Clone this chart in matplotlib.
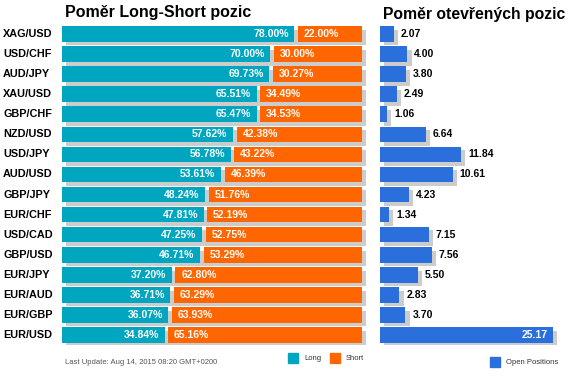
import matplotlib
matplotlib.use('Agg')
import matplotlib.pyplot as plt
from matplotlib.patches import Rectangle

plt.rcParams['font.family'] = ['Liberation Sans', 'DejaVu Sans']

pairs = ['XAG/USD', 'USD/CHF', 'AUD/JPY', 'XAU/USD', 'GBP/CHF', 'NZD/USD',
         'USD/JPY', 'AUD/USD', 'GBP/JPY', 'EUR/CHF', 'USD/CAD', 'GBP/USD',
         'EUR/JPY', 'EUR/AUD', 'EUR/GBP', 'EUR/USD']
long_pct = [78.00, 70.00, 69.73, 65.51, 65.47, 57.62, 56.78, 53.61,
            48.24, 47.81, 47.25, 46.71, 37.20, 36.71, 36.07, 34.84]
short_pct = [22.00, 30.00, 30.27, 34.49, 34.53, 42.38, 43.22, 46.39,
             51.76, 52.19, 52.75, 53.29, 62.80, 63.29, 63.93, 65.16]
open_pos = [2.07, 4.00, 3.80, 2.49, 1.06, 6.64, 11.84, 10.61,
            4.23, 1.34, 7.15, 7.56, 5.50, 2.83, 3.70, 25.17]

teal = '#00a6bf'
orange = '#ff6600'
blue = '#2a6fdb'
shadow = '#cccccc'

W, H = 580, 376
fig = plt.figure(figsize=(W / 100, H / 100), dpi=100)


def px_axes(x0, y0, x1, y1):
    # pixel box (top-left origin) -> axes
    return fig.add_axes([x0 / W, 1 - y1 / H, (x1 - x0) / W, (y1 - y0) / H])


n = len(pairs)
ys = list(range(n))
bh = 0.78
dy = 0.18

# ---- left: long / short ratio
ax1 = px_axes(62, 24, 366, 345)
ax1.set_xlim(0, 101.3)
ax1.set_ylim(n - 0.5, -0.5)
ax1.axis('off')
gap = 0.6
for i in ys:
    ax1.barh(i + dy, 100, left=1.3, height=bh, color=shadow, zorder=1)
    ax1.barh(i, long_pct[i] - gap, left=0, height=bh, color=teal, zorder=2)
    ax1.barh(i, short_pct[i] - gap, left=long_pct[i] + gap, height=bh,
             color=orange, zorder=2)
    ax1.text(long_pct[i] - 2.5, i, '%.2f%%' % long_pct[i], color='white',
             ha='right', va='center', fontsize=7.5, fontweight='bold', zorder=3)
    ax1.text(long_pct[i] + 2.5, i, '%.2f%%' % short_pct[i], color='white',
             ha='left', va='center', fontsize=7.5, fontweight='bold', zorder=3)
    fig.text(3 / W, 1 - (34 + 20.07 * i) / H, pairs[i], ha='left',
             va='center', fontsize=7.8, fontweight='bold')

# ---- right: open positions
ax2 = px_axes(380, 24, 562, 345)
ax2.set_xlim(0, 182 / 6.87)
ax2.set_ylim(n - 0.5, -0.5)
ax2.axis('off')
vmax = max(open_pos)
for i, v in enumerate(open_pos):
    ax2.barh(i + dy, v, left=0.6, height=bh, color=shadow, zorder=1)
    ax2.barh(i, v, left=0, height=bh, color=blue, zorder=2)
    if v == vmax:
        ax2.text(v - 0.7, i, '%.2f' % v, color='white', ha='right',
                 va='center', fontsize=7.5, fontweight='bold', zorder=3)
    else:
        ax2.text(v + 1.0, i, '%.2f' % v, color='black', ha='left',
                 va='center', fontsize=7.5, fontweight='bold', zorder=3)

# titles
fig.text(65 / W, 1 - 13 / H, 'Poměr Long-Short pozic', ha='left',
         va='center', fontsize=11.5, fontweight='bold')
fig.text(383 / W, 1 - 15 / H, 'Poměr otevřených pozic', ha='left',
         va='center', fontsize=11.3, fontweight='bold')

# footer + legends
fig.text(65 / W, 1 - 362 / H, 'Last Update: Aug 14, 2015 08:20 GMT+0200',
         ha='left', va='center', fontsize=5.5, color='#555555')


def legend_item(x, y, color, label):
    fig.patches.append(Rectangle((x / W, 1 - (y + 5) / H), 10 / W, 10 / H,
                                 color=color, transform=fig.transFigure))
    fig.text((x + 16) / W, 1 - y / H, label, ha='left', va='center',
             fontsize=5.5, color='#333333')


legend_item(288, 358, teal, 'Long')
legend_item(330, 358, orange, 'Short')
legend_item(490, 362, blue, 'Open Positions')

fig.savefig('out.png', dpi=100)
